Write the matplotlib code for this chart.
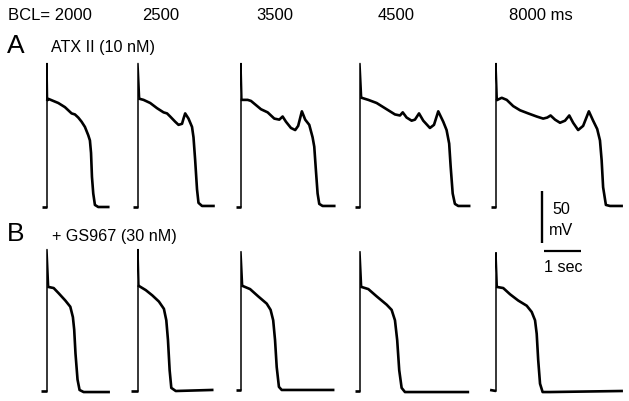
import matplotlib
matplotlib.use("Agg")
import matplotlib.pyplot as plt

plt.rcParams['font.family'] = ['Liberation Sans', 'DejaVu Sans']

# ---- data: one beat per pacing cycle, time (ms) from upstroke, voltage (mV)
bcl_labels = ['BCL= 2000', '2500', '3500', '4500', '8000 ms']

A_2000_t = [-135, 0, 0, 15, 35, 170, 305, 485, 665, 755, 845, 935, 1025, 1115, 1160, 1190, 1215, 1250, 1295, 1385, 1655]
A_2000_v = [-85, -85, 53, 18, 19, 17, 15, 11, 5, 4, 1, -3, -8, -16, -21, -33, -56, -72, -83, -85, -85]

A_2500_t = [-135, 0, 0, 45, 150, 330, 515, 690, 785, 870, 1005, 1095, 1190, 1230, 1275, 1365, 1460, 1500, 1545, 1595, 1635, 1730, 2040]
A_2500_v = [-85, -85, 53, 19, 18, 15, 10, 6, 5, 2, -3, -6, -5, 0, 5, 0, -8, -18, -40, -68, -81, -84, -84]

A_3500_t = [-135, 0, 0, 25, 180, 270, 405, 540, 720, 810, 900, 1035, 1125, 1215, 1350, 1465, 1545, 1645, 1735, 1845, 1935, 1980, 2025, 2070, 2115, 2205, 2520]
A_3500_v = [-85, -85, 53, 18, 18, 17, 13, 9, 6, 3, 0, -1, 2, -3, -9, -11, -7, 7, -1, -6, -18, -27, -50, -72, -82, -84, -84]

A_4500_t = [-135, 0, 0, 45, 225, 450, 675, 810, 945, 1080, 1155, 1260, 1395, 1485, 1595, 1710, 1890, 2000, 2115, 2250, 2340, 2410, 2450, 2505, 2565, 2655, 2950]
A_4500_v = [-85, -85, 53, 20, 18, 15, 10, 7, 4, 3, 6, 1, -2, -1, 5, -2, -9, -6, 7, -3, -11, -24, -46, -72, -82, -84, -84]

A_8000_t = [-135, 0, 0, 35, 155, 290, 465, 650, 870, 1100, 1275, 1385, 1475, 1595, 1730, 1865, 1980, 2085, 2220, 2355, 2510, 2625, 2735, 2810, 2855, 2895, 2970, 3080, 3395]
A_8000_v = [-85, -85, 53, 18, 20, 18, 12, 8, 5, 2, 0, 1, 3, -1, -4, -2, 3, -4, -11, -7, 7, -2, -10, -21, -40, -66, -83, -84, -84]

B_2000_t = [-160, 0, 0, 45, 180, 315, 495, 630, 700, 735, 770, 825, 880, 990, 1665]
B_2000_v = [-85, -85, 51, 15, 14, 9, 2, -4, -14, -26, -49, -74, -84, -86, -86]

B_2500_t = [-195, 0, 0, 25, 210, 385, 565, 700, 765, 810, 855, 900, 1020, 2005]
B_2500_v = [-85, -85, 51, 16, 12, 7, 1, -6, -17, -36, -65, -82, -85, -84]

B_3500_t = [-135, 0, 0, 45, 245, 465, 695, 800, 870, 920, 965, 1025, 1100, 2490]
B_3500_v = [-84, -84, 49, 16, 13, 6, -1, -7, -17, -36, -62, -81, -84, -84]

B_4500_t = [-135, 0, 0, 45, 225, 450, 720, 855, 945, 1005, 1060, 1125, 1215, 2915]
B_4500_v = [-85, -85, 49, 15, 13, 6, -2, -7, -17, -36, -65, -82, -86, -86]

B_8000_t = [-160, 0, 0, 35, 195, 380, 600, 830, 965, 1055, 1100, 1140, 1190, 1260, 1460, 3395]
B_8000_v = [-84, -85, 48, 15, 14, 8, 2, -3, -9, -17, -30, -55, -78, -86, -86, -85]

rows = [
    [(A_2000_t, A_2000_v), (A_2500_t, A_2500_v), (A_3500_t, A_3500_v),
     (A_4500_t, A_4500_v), (A_8000_t, A_8000_v)],
    [(B_2000_t, B_2000_v), (B_2500_t, B_2500_v), (B_3500_t, B_3500_v),
     (B_4500_t, B_4500_v), (B_8000_t, B_8000_v)],
]

SCALE_MV = 50
SCALE_MS = 1000
REST = -85

# ---- layout (pixels of a 629x401 figure)
W, H = 629, 401
MS_PER_PX = 1000 / 37.0
MV_PER_PX = 50 / 52.0
onset_px = [47, 138, 241, 360, 496]
rest_px = [207, 391]

fig = plt.figure(figsize=(W / 100, H / 100), dpi=100)


def add_panel(x_px, y_px, t_lim, v_lim, v_ref):
    # axes placed so that (t=0, v=v_ref) lands on pixel (x_px, y_px)
    left = x_px + t_lim[0] / MS_PER_PX
    right = x_px + t_lim[1] / MS_PER_PX
    bottom = y_px + (v_ref - v_lim[0]) / MV_PER_PX
    top = y_px - (v_lim[1] - v_ref) / MV_PER_PX
    ax = fig.add_axes([left / W, 1 - bottom / H, (right - left) / W, (bottom - top) / H])
    ax.set_xlim(*t_lim)
    ax.set_ylim(*v_lim)
    ax.axis('off')
    ax.patch.set_alpha(0)
    return ax


for r, traces in enumerate(rows):
    for i, (t, v) in enumerate(traces):
        ax = add_panel(onset_px[i], rest_px[r], (-300, 3600), (-100, 70), REST)
        ax.plot(t[:2], v[:2], color='black', lw=1.9, solid_capstyle='butt', clip_on=False)
        ax.plot(t[1:4], v[1:4], color='black', lw=1.1, clip_on=False)
        ax.plot(t[3:], v[3:], color='black', lw=1.9, solid_joinstyle='round', clip_on=False)

# scale bars
sb = add_panel(542, 243, (-100, 1200), (-20, 60), 0)
sb.plot([0, 0], [0, SCALE_MV], color='black', lw=1.7, solid_capstyle='butt', clip_on=False)
sb.plot([2 * MS_PER_PX, 2 * MS_PER_PX + SCALE_MS], [-8 * MV_PER_PX] * 2,
        color='black', lw=1.6, solid_capstyle='butt', clip_on=False)


def label(x, y, s, size, ha='left'):
    fig.text(x / W, 1 - y / H, s, fontsize=size, ha=ha, va='baseline')


label(8, 20, bcl_labels[0], 12)
label(160.5, 20, bcl_labels[1], 12, ha='center')
label(274.5, 20, bcl_labels[2], 12, ha='center')
label(396, 20, bcl_labels[3], 12, ha='center')
label(541, 20, bcl_labels[4], 12, ha='center')

label(7, 52.7, 'A', 19)
label(51, 52, 'ATX II (10 nM)', 11.6)
label(7, 240.7, 'B', 19)
label(52, 240.7, '+ GS967 (30 nM)', 11.6)

label(561.5, 214, '50', 11.6, ha='center')
label(561.5, 235, 'mV', 11.6, ha='center')
label(563, 272, '1 sec', 11.6, ha='center')

fig.savefig('out.png', dpi=100)
